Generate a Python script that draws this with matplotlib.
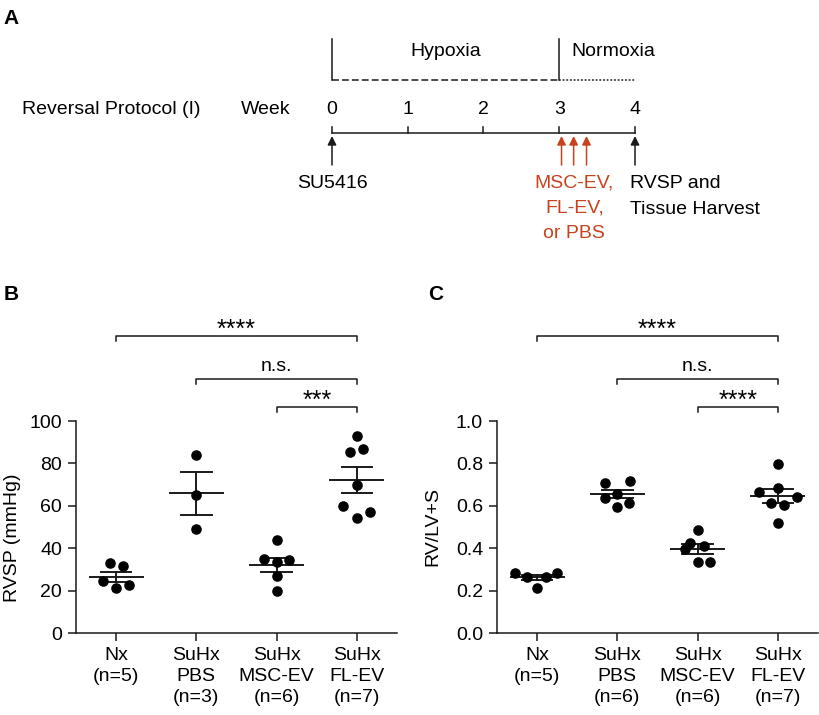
import numpy as np
import matplotlib
matplotlib.use('Agg')
import matplotlib.pyplot as plt

plt.rcParams['font.family'] = ['Liberation Sans', 'DejaVu Sans']
plt.rcParams['font.size'] = 14

# groups
groups = ['Nx\n(n=5)', 'SuHx\nPBS\n(n=3)', 'SuHx\nMSC-EV\n(n=6)', 'SuHx\nFL-EV\n(n=7)']
groups_c = ['Nx\n(n=5)', 'SuHx\nPBS\n(n=6)', 'SuHx\nMSC-EV\n(n=6)', 'SuHx\nFL-EV\n(n=7)']

# panel B: RVSP (mmHg), with horizontal jitter per point
rvsp_nx = [33.1, 31.5, 24.5, 21.3, 22.6]
rvsp_nx_dx = [-0.08, 0.08, -0.16, 0.0, 0.16]
rvsp_pbs = [83.9, 64.9, 48.9]
rvsp_pbs_dx = [0.0, 0.0, 0.0]
rvsp_msc = [44.1, 34.7, 33.7, 34.3, 26.8, 19.6]
rvsp_msc_dx = [0.0, -0.16, 0.0, 0.16, 0.0, 0.0]
rvsp_fl = [92.7, 85.3, 86.9, 69.6, 59.9, 57.1, 54.3]
rvsp_fl_dx = [0.0, -0.09, 0.08, 0.0, -0.17, 0.16, 0.0]

# panel C: RV/LV+S
fulton_nx = [0.282, 0.266, 0.266, 0.282, 0.214]
fulton_nx_dx = [-0.27, -0.13, 0.11, 0.25, 0.0]
fulton_pbs = [0.706, 0.716, 0.656, 0.638, 0.615, 0.596]
fulton_pbs_dx = [-0.16, 0.16, 0.0, -0.16, 0.15, 0.0]
fulton_msc = [0.486, 0.423, 0.395, 0.410, 0.336, 0.336]
fulton_msc_dx = [0.0, -0.09, -0.16, 0.08, 0.0, 0.16]
fulton_fl = [0.797, 0.667, 0.682, 0.643, 0.612, 0.604, 0.520]
fulton_fl_dx = [0.0, -0.24, 0.0, 0.24, -0.08, 0.08, 0.0]

# significance brackets: (from, to, label)
sig_b = [(0, 3, '****'), (1, 3, 'n.s.'), (2, 3, '***')]
sig_c = [(0, 3, '****'), (1, 3, 'n.s.'), (2, 3, '****')]
bracket_levels = [1.402, 1.198, 1.067]  # fraction of y-range

# panel A timeline
weeks = [0, 1, 2, 3, 4]
hypoxia_end = 3
ev_doses = [3.03, 3.19, 3.36]
ev_label = ['MSC-EV,', 'FL-EV,', 'or PBS']
red = '#c8421e'
ink = '#1a1a1a'

fig = plt.figure(figsize=(8.2, 7.15), dpi=100)

# ---------- panel A ----------
axA = fig.add_axes([0, 1 - 270 / 715, 1, 270 / 715])
px_per_week = 75.75
axA.set_xlim(-332 / px_per_week, (820 - 332) / px_per_week)
axA.set_ylim(270, 0)
axA.axis('off')

y_top, y_env, y_num, y_line, y_arrow0, y_arrow1 = 39, 80, 110, 132.7, 136, 165
axA.plot([weeks[0], weeks[-1]], [y_line, y_line], color=ink, lw=1.1)
for w in weeks:
    axA.plot([w, w], [y_line, y_line - 6], color=ink, lw=1.1)
    axA.text(w, y_num, str(w), ha='center', va='center')
axA.plot([0, 0], [y_top, y_env], color=ink, lw=1.1)
axA.plot([hypoxia_end, hypoxia_end], [y_top, y_env], color=ink, lw=1.1)
axA.plot([0, hypoxia_end], [y_env, y_env], color=ink, lw=1.1, ls=(0, (4.5, 2)))
axA.plot([hypoxia_end, weeks[-1]], [y_env, y_env], color=ink, lw=1.1, ls=(0, (1.2, 1.2)))
axA.text(1.5, 52, 'Hypoxia', ha='center', va='center')
axA.text(3.72, 52, 'Normoxia', ha='center', va='center')
axA.text(-4.09, y_num, 'Reversal Protocol (I)', ha='left', va='center')
axA.text(-1.2, y_num, 'Week', ha='left', va='center')

arrow = dict(arrowstyle='-|>', lw=1.1, mutation_scale=13, shrinkA=0, shrinkB=0)
for w, c in [(0, ink), (4, ink)] + [(d, red) for d in ev_doses]:
    axA.annotate('', xy=(w, y_arrow0), xytext=(w, y_arrow1),
                 arrowprops=dict(arrow, color=c, fc=c))
axA.text(0, 183, 'SU5416', ha='center', va='center')
for k, line in enumerate(ev_label):
    axA.text(3.2, 183 + 25 * k, line, ha='center', va='center', color=red)
axA.text(3.94, 183, 'RVSP and', ha='left', va='center')
axA.text(3.94, 209, 'Tissue Harvest', ha='left', va='center')
fig.text(0.004, 1 - 18 / 715, 'A', fontsize=15, fontweight='bold', va='center')


def dot_panel(ax, data, offsets, ymax, yticks, fmt, ylabel, labels, sigs):
    for i, (vals, dx) in enumerate(zip(data, offsets)):
        vals = np.array(vals)
        ax.plot(i + np.array(dx), vals, 'o', color='black', ms=6.6, zorder=3,
                clip_on=False)
        m = vals.mean()
        sem = vals.std(ddof=1) / np.sqrt(len(vals))
        ax.plot([i - 0.33, i + 0.33], [m, m], color=ink, lw=1.4, zorder=2)
        ax.plot([i - 0.19, i + 0.19], [m + sem] * 2, color=ink, lw=1.4, zorder=2)
        ax.plot([i - 0.19, i + 0.19], [m - sem] * 2, color=ink, lw=1.4, zorder=2)
        ax.plot([i, i], [m - sem, m + sem], color=ink, lw=1.4, zorder=2)
    ax.set_xlim(-0.5, 3.5)
    ax.set_ylim(0, ymax)
    ax.set_xticks(range(4))
    ax.set_xticklabels(labels, linespacing=1.3)
    ax.set_yticks(yticks)
    ax.set_yticklabels([fmt.format(t) for t in yticks])
    ax.set_ylabel(ylabel)
    for s in ['top', 'right']:
        ax.spines[s].set_visible(False)
    for s in ['left', 'bottom']:
        ax.spines[s].set_linewidth(1.1)
        ax.spines[s].set_color(ink)
    ax.tick_params(length=6, width=1.1, color=ink, pad=4)
    drop = 0.024 * ymax
    for (a, b, lab), lvl in zip(sigs, bracket_levels):
        y = lvl * ymax
        ax.plot([a, a, b, b], [y - drop, y, y, y - drop], color=ink, lw=1.1,
                clip_on=False)
        if lab == 'n.s.':
            ax.text((a + b) / 2, y + 0.036 * ymax, lab, ha='center', va='baseline')
        else:
            ax.text((a + b) / 2, y - 0.005 * ymax, lab, ha='center', va='baseline',
                    fontsize=18)


axB = fig.add_axes([76 / 820, 82 / 715, 321 / 820, 212 / 715])
dot_panel(axB, [rvsp_nx, rvsp_pbs, rvsp_msc, rvsp_fl],
          [rvsp_nx_dx, rvsp_pbs_dx, rvsp_msc_dx, rvsp_fl_dx],
          100, [0, 20, 40, 60, 80, 100], '{:.0f}', 'RVSP (mmHg)', groups, sig_b)
axB.yaxis.set_label_coords(-0.172, 0.45)

axC = fig.add_axes([497 / 820, 82 / 715, 321 / 820, 212 / 715])
dot_panel(axC, [fulton_nx, fulton_pbs, fulton_msc, fulton_fl],
          [fulton_nx_dx, fulton_pbs_dx, fulton_msc_dx, fulton_fl_dx],
          1.0, [0, 0.2, 0.4, 0.6, 0.8, 1.0], '{:.1f}', 'RV/LV+S', groups_c, sig_c)
axC.yaxis.set_label_coords(-0.172, 0.5)

fig.text(0.004, 1 - 295 / 715, 'B', fontsize=15, fontweight='bold', va='center')
fig.text(428 / 820, 1 - 295 / 715, 'C', fontsize=15, fontweight='bold', va='center')

fig.savefig('out.png', dpi=100)
